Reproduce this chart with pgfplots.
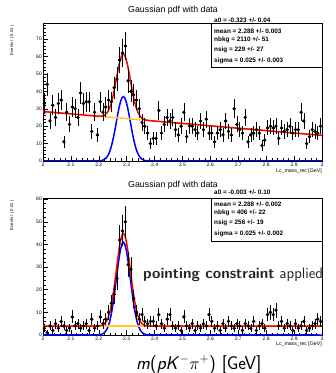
\documentclass[border=0pt]{standalone}
\usepackage{fontspec}
\usepackage{pgfplots}
\usepackage{pgfplotstable}
\pgfplotsset{compat=1.18}
\newfontfamily\arial{Liberation Sans}
\definecolor{rootyellow}{RGB}{255,200,40}

\pgfplotstableread{
x y
2.005 33
2.015 44
2.025 23
2.035 32
2.045 25
2.055 33
2.065 35
2.075 11
2.085 28
2.095 21
2.105 31
2.115 30
2.125 25
2.135 39
2.145 33
2.155 34
2.165 34
2.175 17
2.185 28
2.195 15
2.205 34
2.215 28
2.225 31
2.235 35
2.245 34
2.255 42
2.265 47
2.275 58
2.285 62
2.295 66
2.305 46
2.315 40
2.325 38
2.335 35
2.345 30
2.355 22
2.365 20
2.375 16
2.385 10
2.395 13
2.405 13
2.415 29
2.425 16
2.435 21
2.445 25
2.455 23
2.465 25
2.475 18
2.485 15
2.495 20
2.505 28
2.515 14
2.525 20
2.535 20
2.545 18
2.555 16
2.565 23
2.575 18
2.585 24
2.595 16
2.605 16
2.615 11
2.625 16
2.635 18
2.645 15
2.655 23
2.665 17
2.675 15
2.685 30
2.695 21
2.705 18
2.715 16
2.725 25
2.735 11
2.745 15
2.755 16
2.765 18
2.775 16
2.785 9
2.795 12
2.805 19
2.815 20
2.825 19
2.835 20
2.845 13
2.855 19
2.865 17
2.875 18
2.885 20
2.895 16
2.905 18
2.915 18
2.925 28
2.935 23
2.945 10
2.955 14
2.965 18
2.975 17
2.985 16
2.995 20
}\topdata

\pgfplotstableread{
x y
2.005 3
2.015 1
2.025 4
2.035 2
2.045 5
2.055 3
2.065 6
2.075 4
2.085 2
2.095 3
2.105 8
2.115 4
2.125 5
2.135 3
2.145 4
2.155 5
2.165 2
2.175 7
2.185 3
2.195 4
2.205 8
2.215 5
2.225 7
2.235 10
2.245 14
2.255 18
2.265 25
2.275 42
2.285 46
2.295 50
2.305 31
2.315 29
2.325 16
2.335 10
2.345 7
2.355 9
2.365 6
2.375 5
2.385 6
2.395 6
2.405 4
2.415 9
2.425 5
2.435 3
2.445 7
2.455 9
2.465 4
2.475 3
2.485 4
2.495 2
2.505 8
2.515 4
2.525 3
2.535 5
2.545 2
2.555 4
2.565 3
2.575 5
2.585 4
2.595 9
2.605 6
2.615 3
2.625 4
2.635 2
2.645 5
2.655 3
2.665 6
2.675 4
2.685 3
2.695 5
2.705 4
2.715 2
2.725 5
2.735 4
2.745 3
2.755 6
2.765 2
2.775 4
2.785 5
2.795 3
2.805 9
2.815 10
2.825 9
2.835 11
2.845 4
2.855 6
2.865 3
2.875 5
2.885 4
2.895 2
2.905 5
2.915 3
2.925 4
2.935 6
2.945 2
2.955 3
2.965 4
2.975 5
2.985 7
2.995 6
}\botdata

\pgfplotsset{rootaxis/.style={
  scale only axis, width=279pt, height=138pt,
  xmin=2, xmax=3, ymin=0,
  axis line style={line width=0.5pt},
  xtick={2,2.1,2.2,2.3,2.4,2.5,2.6,2.7,2.8,2.9,3},
  xticklabels={2,2.1,2.2,2.3,2.4,2.5,2.6,2.7,2.8,2.9,3},
  ytick distance=10,
  minor x tick num=4, minor y tick num=4,
  tick align=inside, xtick pos=bottom, ytick pos=left,
  major tick length=5pt, minor tick length=2.5pt,
  tick style={black, line width=0.45pt},
  tick label style={font=\arial\fontsize{5}{6}\selectfont},
  /pgf/number format/assume math mode=true,
  yticklabel style={inner sep=1pt},
  xticklabel style={inner sep=1.5pt},
  scaled ticks=false,
}, datastyle/.style={
  only marks, mark=*, mark size=1.5pt, black,
  error bars/.cd, y dir=both, y explicit, x dir=both, x fixed=0.005,
  error mark=none, error bar style={line width=0.7pt, black}
}, curve/.style={line width=1.5pt}}

\begin{document}
\begin{tikzpicture}[x=1pt,y=1pt]
\fill[white] (0,0) rectangle (336,373);
\path[use as bounding box] (0,0) rectangle (336,373);

% ---------------- top plot ----------------
\begin{axis}[rootaxis, at={(43pt,212pt)}, anchor=south west, ymax=79.2]
\addplot[blue, curve] coordinates {
(2,0) (2.188,0.01) (2.198,0.06) (2.203,0.11) (2.208,0.22) (2.213,0.41) (2.218,0.73)
(2.223,1.26) (2.228,2.08) (2.233,3.29) (2.238,5.01) (2.243,7.32) (2.248,10.29)
(2.253,13.89) (2.258,18.01) (2.263,22.44) (2.268,26.87) (2.273,30.91) (2.278,34.15)
(2.283,36.27) (2.288,37) (2.293,36.27) (2.298,34.15) (2.303,30.91) (2.308,26.87)
(2.313,22.44) (2.318,18.01) (2.323,13.89) (2.328,10.29) (2.333,7.32) (2.338,5.01)
(2.343,3.29) (2.348,2.08) (2.353,1.26) (2.358,0.73) (2.363,0.41) (2.368,0.22)
(2.373,0.11) (2.378,0.06) (2.388,0.01) (3,0)};
\addplot[rootyellow, curve] coordinates {(2,28.4) (3,14.7)};
\addplot[red, curve] coordinates {
(2,28.4) (2.188,25.83) (2.198,25.75) (2.203,25.73) (2.208,25.77) (2.213,25.89) (2.218,26.14)
(2.223,26.60) (2.228,27.36) (2.233,28.50) (2.238,30.15) (2.243,32.39) (2.248,35.29)
(2.253,38.82) (2.258,42.87) (2.263,47.24) (2.268,51.60) (2.273,55.57) (2.278,58.74)
(2.283,60.79) (2.288,61.45) (2.293,60.66) (2.298,58.47) (2.303,55.16) (2.308,51.05)
(2.313,46.55) (2.318,42.05) (2.323,37.86) (2.328,34.20) (2.333,31.16) (2.338,28.78)
(2.343,26.99) (2.348,25.71) (2.353,24.82) (2.358,24.22) (2.363,23.84) (2.368,23.58)
(2.373,23.40) (2.378,23.28) (2.388,23.09) (3,14.7)};
\addplot[datastyle] table[x=x, y=y, y error expr={sqrt(\thisrow{y})}] {\topdata};
\end{axis}

% ---------------- bottom plot ----------------
\begin{axis}[rootaxis, at={(43pt,38pt)}, anchor=south west, height=137pt, ymax=60.5]
\addplot[blue, curve] coordinates {
(2,0) (2.188,0.01) (2.198,0.06) (2.203,0.13) (2.208,0.25) (2.213,0.46) (2.218,0.81)
(2.223,1.39) (2.228,2.30) (2.233,3.64) (2.238,5.55) (2.243,8.11) (2.248,11.40)
(2.253,15.39) (2.258,19.96) (2.263,24.87) (2.268,29.77) (2.273,34.25) (2.278,37.85)
(2.283,40.19) (2.288,41) (2.293,40.19) (2.298,37.85) (2.303,34.25) (2.308,29.77)
(2.313,24.87) (2.318,19.96) (2.323,15.39) (2.328,11.40) (2.333,8.11) (2.338,5.55)
(2.343,3.64) (2.348,2.30) (2.353,1.39) (2.358,0.81) (2.363,0.46) (2.368,0.25)
(2.373,0.13) (2.378,0.06) (2.388,0.01) (3,0)};
\addplot[rootyellow, curve] coordinates {(2,3.9) (3,3.9)};
\addplot[red, curve] coordinates {
(2,3.9) (2.188,3.91) (2.198,3.96) (2.203,4.03) (2.208,4.15) (2.213,4.36) (2.218,4.71)
(2.223,5.29) (2.228,6.20) (2.233,7.54) (2.238,9.45) (2.243,12.01) (2.248,15.30)
(2.253,19.29) (2.258,23.86) (2.263,28.77) (2.268,33.67) (2.273,38.15) (2.278,41.75)
(2.283,44.09) (2.288,44.9) (2.293,44.09) (2.298,41.75) (2.303,38.15) (2.308,33.67)
(2.313,28.77) (2.318,23.86) (2.323,19.29) (2.328,15.30) (2.333,12.01) (2.338,9.45)
(2.343,7.54) (2.348,6.20) (2.353,5.29) (2.358,4.71) (2.363,4.36) (2.368,4.15)
(2.373,4.03) (2.378,3.96) (2.388,3.91) (3,3.9)};
\addplot[datastyle] table[x=x, y=y, y error expr={sqrt(\thisrow{y})}] {\botdata};
\end{axis}

% ---------------- texts of the top plot ----------------
\node[font=\arial\fontsize{8.8}{10}\selectfont, anchor=center] at (173,363) {Gaussian pdf with data};
\node[font=\arial\fontsize{4.2}{5}\selectfont, rotate=90, anchor=east] at (12,351) {Events / ( 0.01 )};
\node[font=\arial\fontsize{5.2}{6}\selectfont, anchor=east, inner sep=0pt] at (322,202.3) {Lc\_mass\_rec [GeV]};
\draw[line width=0.5pt] (211,350) -- (211,306) -- (322,306);
\begin{scope}[every node/.style={font=\arial\bfseries\fontsize{6.4}{7}\selectfont, anchor=west, inner sep=0pt}]
\node at (214,353) {a0 = -0.323 +/- 0.04};
\node at (214,341.5) {mean =  2.288 +/- 0.003};
\node at (214,333) {nbkg =  2110 +/- 51};
\node at (214,323) {nsig =  229 +/- 27};
\node at (214,312) {sigma =  0.025 +/- 0.003};
\end{scope}

% ---------------- texts of the bottom plot ----------------
\node[font=\arial\fontsize{8.8}{10}\selectfont, anchor=center] at (173,188) {Gaussian pdf with data};
\node[font=\arial\fontsize{4.2}{5}\selectfont, rotate=90, anchor=east] at (12,176) {Events / ( 0.01 )};
\node[font=\arial\fontsize{5.2}{6}\selectfont, anchor=east, inner sep=0pt] at (322,29) {Lc\_mass\_rec [GeV]};
\draw[line width=0.5pt] (211,175) -- (211,132) -- (322,132);
\begin{scope}[every node/.style={font=\arial\bfseries\fontsize{6.4}{7}\selectfont, anchor=west, inner sep=0pt}]
\node at (214,180.3) {a0 = -0.003 +/- 0.10};
\node at (214,169) {mean =  2.288 +/- 0.002};
\node at (214,160) {nbkg =  406 +/- 22};
\node at (214,150) {nsig =  256 +/- 19};
\node at (214,139) {sigma =  0.025 +/- 0.002};
\end{scope}

% ---------------- overlay ----------------
\node[font=\sffamily\fontsize{15.2}{17}\selectfont, anchor=base west, inner sep=0pt, text=black!85] at (143,94.7) {{\bfseries pointing constraint} applied};
\node[font=\sffamily\fontsize{18.5}{20}\selectfont, anchor=base west, inner sep=0pt] at (136,4) {\textit{m}(\textit{pK}$^{-}\pi^{+}$) [GeV]};
\end{tikzpicture}
\end{document}
